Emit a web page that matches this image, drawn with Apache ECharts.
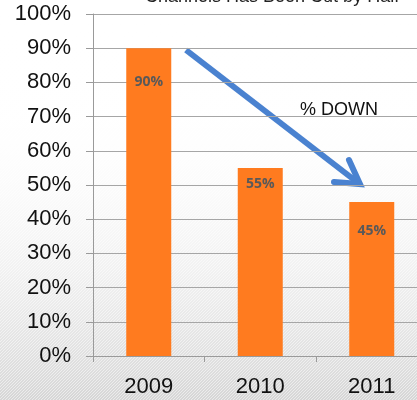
<!DOCTYPE html>
<html>
<head>
<meta charset="utf-8">
<script src="https://cdn.jsdelivr.net/npm/echarts@6/dist/echarts.min.js"></script>
<style>
  html, body { margin: 0; padding: 0; background: #fff; }
  #chart { width: 417px; height: 400px; }
</style>
</head>
<body>
<div id="chart"></div>
<script>
// Share of channels per year
const years = ['2009', '2010', '2011'];
const shares = [90, 55, 45];
const yTicks = [0, 10, 20, 30, 40, 50, 60, 70, 80, 90, 100];
const titleText = 'Channels Has Been Cut by Half';
const noteText = '% DOWN';

// distance of each value label below its bar top
const labelGap = [27, 9, 22];

// Background: white fading to light grey, with fine diagonal hatching
function makeBackground(w, h) {
  const c = document.createElement('canvas');
  c.width = w; c.height = h;
  const g = c.getContext('2d');
  const grad = g.createLinearGradient(0, 0, 0, h);
  grad.addColorStop(0, '#ffffff');
  grad.addColorStop(0.3, '#fcfcfc');
  grad.addColorStop(1, '#d6d6d6');
  g.fillStyle = grad;
  g.fillRect(0, 0, w, h);
  g.save();
  g.globalAlpha = 0.5;
  g.strokeStyle = '#ffffff';
  g.lineWidth = 1;
  for (let k = -h; k < w + h; k += 3) {
    g.beginPath();
    g.moveTo(k, h);
    g.lineTo(k + h, 0);
    g.stroke();
  }
  g.restore();
  // fade the hatching out toward the top
  const fade = g.createLinearGradient(0, 0, 0, h);
  fade.addColorStop(0, 'rgba(255,255,255,1)');
  fade.addColorStop(0.3, 'rgba(255,255,255,0.9)');
  fade.addColorStop(1, 'rgba(255,255,255,0)');
  g.fillStyle = fade;
  g.fillRect(0, 0, w, h);
  return c;
}

const chart = echarts.init(document.getElementById('chart'), null, { renderer: 'canvas' });

const font = 'Liberation Sans, Arial, sans-serif';

const option = {
  animation: false,
  backgroundColor: { image: makeBackground(417, 400), repeat: 'no-repeat' },
  grid: {
    left: 93, top: 14, width: 334.5, height: 342,
    containLabel: false, outerBoundsMode: 'none'
  },
  xAxis: {
    type: 'category',
    data: years,
    axisLine: { lineStyle: { color: '#9a9a9a', width: 1 } },
    axisTick: { show: true, length: 6, alignWithLabel: false, lineStyle: { color: '#9a9a9a' } },
    axisLabel: { color: '#111', fontSize: 22, fontFamily: font, margin: 20 }
  },
  yAxis: {
    type: 'value',
    min: 0,
    max: 100,
    interval: 10,
    axisLine: { show: true, lineStyle: { color: '#9a9a9a', width: 1 } },
    axisTick: { show: true, length: 7, inside: false, lineStyle: { color: '#9a9a9a' } },
    axisLabel: {
      color: '#111', fontSize: 22, fontFamily: font, margin: 22,
      formatter: v => (yTicks.includes(v) ? v + '%' : '')
    },
    splitLine: { show: true, lineStyle: { color: '#a6a6a6', width: 1 } }
  },
  series: [{
    type: 'bar',
    barWidth: 45,
    itemStyle: { color: '#FF7B1F' },
    data: shares.map((v, i) => ({
      value: v,
      label: { distance: labelGap[i] }
    })),
    label: {
      show: true,
      position: 'insideTop',
      color: '#595959',
      fontSize: 14,
      fontWeight: 'bold',
      fontFamily: 'Open Sans, Liberation Sans, sans-serif',
      formatter: p => p.value + '%'
    }
  }],
  graphic: [
    {
      type: 'text',
      left: 145, top: -12,
      style: { text: titleText, fontSize: 18, fontFamily: font, fill: '#222' }
    },
    {
      type: 'text',
      left: 300, top: 101,
      style: { text: noteText, fontSize: 18, fontFamily: font, fill: '#111' }
    },
    {
      type: 'line',
      shape: { x1: 186, y1: 50, x2: 357, y2: 182 },
      style: { stroke: '#4A82D0', lineWidth: 6, lineCap: 'butt' }
    },
    {
      type: 'polyline',
      shape: { points: [[349, 160], [360, 184], [334, 182]] },
      style: { stroke: '#4A82D0', lineWidth: 6, fill: null, lineJoin: 'miter', lineCap: 'round' }
    }
  ]
};

chart.setOption(option);
</script>
</body>
</html>
